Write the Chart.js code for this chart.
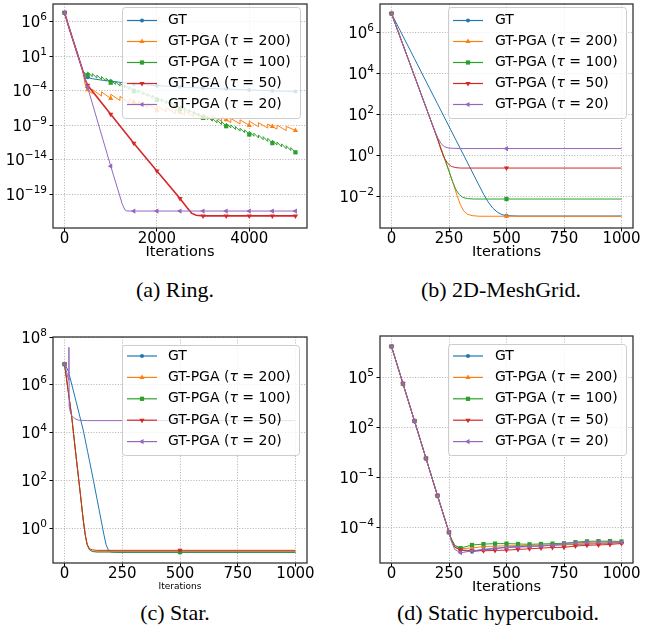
<!DOCTYPE html>
<html>
<head>
<meta charset="utf-8">
<script src="https://cdn.jsdelivr.net/npm/chart.js@4/dist/chart.umd.min.js"></script>
<style>
  body { margin: 0; background: #fff; }
  #fig { position: relative; width: 657px; height: 641px; overflow: hidden; background: #fff; }
  canvas { position: absolute; }
  .cap { position: absolute; width: 300px; text-align: center; white-space: nowrap;
         font-family: "Liberation Serif", serif; font-size: 22px; line-height: 24px; color: #000; }
</style>
</head>
<body>
<div id="fig">
  <canvas id="ring" style="left:0;top:0"></canvas>
  <canvas id="mesh" style="left:330px;top:0"></canvas>
  <canvas id="star" style="left:0;top:320px"></canvas>
  <canvas id="cube" style="left:330px;top:320px"></canvas>
  <div class="cap" style="left:25px;top:278px">(a) Ring.</div>
  <div class="cap" style="left:351px;top:278px">(b) 2D-MeshGrid.</div>
  <div class="cap" style="left:25px;top:601px">(c) Star.</div>
  <div class="cap" style="left:348px;top:601px">(d) Static hypercuboid.</div>
</div>
<script>
// values are log10 of the loss: [iteration, log10(loss)]

// (a) Ring
const ringMarks = [0, 500, 1000, 1500, 2000, 2500, 3000, 3500, 4000, 4500, 5000];
const ringGT = [[0,7.3],[100,5.1],[200,3.0],[300,0.9],[400,-1.2],[450,-1.75],[500,-2.05],[600,-2.25],[800,-2.45],
  [1000,-2.6],[1500,-3.0],[2000,-3.25],[2500,-3.45],[3000,-3.6],[3500,-3.75],[4000,-3.87],[4500,-4.0],[5000,-4.1]];
const ringPGA200 = [[0,7.3],[100,5.1],[200,3.0],[300,0.9],[400,-1.2],[440,-2.9],[480,-3.75],[500,-3.86],
  [600,-4.4],[600,-3.8],[800,-4.75],[800,-4.15],[1000,-5.1],[1000,-4.5],[1200,-5.4],[1200,-4.8],
  [1400,-5.75],[1400,-5.15],[1500,-5.63],[1600,-6.1],[1600,-5.5],[1800,-6.45],[1800,-5.85],
  [2000,-6.8],[2000,-6.2],[2200,-7.05],[2200,-6.45],[2400,-7.3],[2400,-6.7],[2500,-7.1],
  [2600,-7.5],[2600,-6.9],[2800,-7.75],[2800,-7.15],[3000,-8.0],[3000,-7.4],[3200,-8.2],[3200,-7.6],
  [3400,-8.4],[3400,-7.8],[3500,-8.2],[3600,-8.6],[3600,-8.0],[3800,-8.8],[3800,-8.2],
  [4000,-9.0],[4000,-8.4],[4200,-9.2],[4200,-8.6],[4400,-9.4],[4400,-8.8],[4500,-9.18],
  [4600,-9.55],[4600,-8.95],[4800,-9.75],[4800,-9.15],[5000,-9.75]];
const ringPGA100 = [[0,7.3],[100,5.1],[200,3.0],[300,0.9],[400,-1.2],[450,-1.45],
  [500,-1.72],[500,-1.28],[600,-1.94],[600,-1.5],[700,-2.16],[700,-1.72],[800,-2.38],[800,-1.94],
  [900,-2.6],[900,-2.16],[1000,-2.82],[1000,-2.38],[1100,-3.07],[1100,-2.63],[1200,-3.32],[1200,-2.88],
  [1300,-3.57],[1300,-3.13],[1400,-3.82],[1400,-3.38],[1500,-4.07],[1500,-3.63],[1600,-4.32],[1600,-3.88],
  [1700,-4.57],[1700,-4.13],[1800,-4.82],[1800,-4.38],[1900,-5.07],[1900,-4.63],[2000,-5.32],[2000,-4.88],
  [2100,-5.58],[2100,-5.14],[2200,-5.84],[2200,-5.4],[2300,-6.1],[2300,-5.66],[2400,-6.36],[2400,-5.92],
  [2500,-6.62],[2500,-6.18],[2600,-6.88],[2600,-6.44],[2700,-7.14],[2700,-6.7],[2800,-7.4],[2800,-6.96],
  [2900,-7.66],[2900,-7.22],[3000,-7.92],[3000,-7.48],[3100,-8.16],[3100,-7.72],[3200,-8.4],[3200,-7.96],
  [3300,-8.64],[3300,-8.2],[3400,-8.88],[3400,-8.44],[3500,-9.12],[3500,-8.68],[3600,-9.36],[3600,-8.92],
  [3700,-9.6],[3700,-9.16],[3800,-9.84],[3800,-9.4],[3900,-10.08],[3900,-9.64],[4000,-10.32],[4000,-9.88],
  [4100,-10.57],[4100,-10.13],[4200,-10.82],[4200,-10.38],[4300,-11.07],[4300,-10.63],[4400,-11.32],[4400,-10.88],
  [4500,-11.57],[4500,-11.13],[4600,-11.84],[4600,-11.4],[4700,-12.11],[4700,-11.67],[4800,-12.38],[4800,-11.94],
  [4900,-12.65],[4900,-12.21],[5000,-12.9]];
const ringPGA50 = [[0,7.3],[100,5.1],[200,3.0],[300,0.9],[400,-1.2],[450,-2.4],[500,-3.2],[1000,-7.4],
  [1500,-11.6],[2000,-15.6],[2500,-19.6],[2650,-20.9],[2750,-21.7],[2850,-22.0],[3000,-22.1],
  [3500,-22.1],[4000,-22.1],[4500,-22.1],[5000,-22.1]];
const ringPGA20 = [[0,7.3],[100,5.1],[200,3.0],[300,0.9],[400,-1.2],[500,-3.5],[1000,-14.9],[1250,-20.4],
  [1310,-21.25],[1350,-21.4],[1500,-21.4],[2000,-21.4],[2500,-21.4],[3000,-21.4],[3500,-21.4],
  [4000,-21.4],[4500,-21.4],[5000,-21.4]];

// (b) 2D-MeshGrid
const meshMarks = [0, 500];
const meshGT = [[0,6.93],[100,4.73],[200,2.53],[300,0.33],[400,-1.87],[420,-2.25],[440,-2.55],[460,-2.75],
  [480,-2.87],[500,-2.92],[550,-2.94],[1000,-2.94]];
const meshPGA200 = [[0,6.93],[100,3.88],[200,0.83],[250,-0.75],[270,-1.4],[285,-1.95],[300,-2.4],[315,-2.7],
  [330,-2.85],[350,-2.92],[380,-2.95],[500,-2.95],[1000,-2.95]];
const meshPGA100 = [[0,6.93],[100,3.88],[200,0.83],[250,-0.75],[265,-1.25],[280,-1.65],[295,-1.9],[310,-2.03],
  [330,-2.09],[360,-2.11],[500,-2.11],[1000,-2.11]];
const meshPGA50 = [[0,6.93],[100,3.88],[200,0.83],[215,0.3],[230,-0.12],[245,-0.38],[260,-0.52],[280,-0.58],
  [300,-0.6],[500,-0.6],[1000,-0.6]];
const meshPGA20 = [[0,6.93],[100,3.88],[180,1.45],[200,0.9],[215,0.6],[230,0.44],[250,0.37],[300,0.35],
  [500,0.35],[1000,0.35]];

// (c) Star
const starMarks = [0, 500];
const starGT = [[0,6.86],[10,6.7],[17,6.55],[50,5.3],[81,4.1],[100,3.2],[125,2.0],[150,0.75],[170,-0.25],
  [180,-0.7],[190,-0.92],[200,-1.0],[220,-1.02],[500,-1.02],[1000,-1.02]];
const starPGA200 = [[0,6.86],[15,5.8],[31,4.66],[50,3.0],[70,1.3],[81,0.34],[90,-0.3],[98,-0.7],[108,-0.9],
  [120,-0.97],[140,-0.99],[500,-0.99],[1000,-0.99]];
const starPGA100 = [[0,6.86],[15,5.8],[31,4.66],[50,3.0],[70,1.3],[81,0.34],[90,-0.3],[98,-0.7],[108,-0.91],
  [120,-0.98],[140,-1.0],[500,-1.0],[1000,-1.0]];
const starPGA50 = [[0,6.86],[15,5.8],[31,4.66],[50,3.0],[70,1.3],[81,0.34],[90,-0.3],[98,-0.68],[108,-0.86],
  [120,-0.91],[140,-0.93],[500,-0.93],[1000,-0.93]];
const starPGA20 = [[0,6.86],[10,6.5],[17,6.2],[19,7.57],[20,5.1],[25,4.85],[31,4.72],[45,4.58],[60,4.52],
  [100,4.5],[500,4.5],[1000,4.5]];

// (d) Static hypercuboid
const cubeMarks = [0,50,100,150,200,250,300,350,400,450,500,550,600,650,700,750,800,850,900,950,1000];
const cubeGT = [[0,6.89],[50,4.64],[100,2.39],[150,0.14],[200,-2.11],[250,-4.32],[260,-4.75],[275,-5.2],
  [300,-5.38],[350,-5.49],[400,-5.38],[450,-5.3],[500,-5.2],[550,-5.18],[600,-5.16],[650,-5.13],[700,-5.1],
  [750,-5.07],[800,-5.05],[850,-5.02],[900,-5.0],[950,-4.96],[1000,-4.93]];
const cubePGA200 = [[0,6.89],[50,4.64],[100,2.39],[150,0.14],[200,-2.11],[250,-4.32],[260,-4.72],[275,-5.12],
  [300,-5.32],[350,-5.25],[400,-5.18],[450,-5.15],[500,-5.13],[550,-5.12],[600,-5.11],[650,-5.09],[700,-5.07],
  [750,-5.05],[800,-5.02],[850,-5.0],[900,-4.98],[950,-4.96],[1000,-4.95]];
const cubePGA100 = [[0,6.89],[50,4.64],[100,2.39],[150,0.14],[200,-2.11],[250,-4.32],[260,-4.7],[275,-5.1],
  [300,-5.27],[350,-5.08],[400,-5.03],[450,-5.0],[500,-5.0],[550,-5.02],[600,-5.04],[650,-5.02],[700,-5.0],
  [750,-4.98],[800,-4.91],[850,-4.86],[900,-4.85],[950,-4.85],[1000,-4.87]];
const cubePGA50 = [[0,6.89],[50,4.64],[100,2.39],[150,0.14],[200,-2.11],[250,-4.32],[260,-4.78],[275,-5.22],
  [300,-5.38],[350,-5.42],[400,-5.43],[450,-5.41],[500,-5.39],[550,-5.35],[600,-5.31],[650,-5.27],[700,-5.23],
  [750,-5.22],[800,-5.15],[850,-5.1],[900,-5.08],[950,-5.05],[1000,-4.99]];
const cubePGA20 = [[0,6.89],[50,4.64],[100,2.39],[150,0.14],[200,-2.11],[250,-4.32],[260,-4.85],[275,-5.35],
  [300,-5.55],[350,-5.44],[400,-5.34],[450,-5.28],[500,-5.24],[550,-5.21],[600,-5.18],[650,-5.14],[700,-5.1],
  [750,-5.0],[800,-4.95],[850,-4.92],[900,-4.9],[950,-4.9],[1000,-4.91]];

// tick labels
const ringXTicks = [0, 2000, 4000];
const otherXTicks = [0, 250, 500, 750, 1000];
const ringYTicks = [1e6, 1e1, 1e-4, 1e-9, 1e-14, 1e-19];
const meshYTicks = [1e6, 1e4, 1e2, 1e0, 1e-2];
const starYTicks = [1e8, 1e6, 1e4, 1e2, 1e0];
const cubeYTicks = [1e5, 1e2, 1e-1, 1e-4];

const SERIES = [
  {tau: null,  color: '#1f77b4', style: 'circle',   rot: 0,   r: 2},
  {tau: '200', color: '#ff7f0e', style: 'triangle', rot: 0,   r: 3},
  {tau: '100', color: '#2ca02c', style: 'rect',     rot: 0,   r: 3},
  {tau: '50',  color: '#d62728', style: 'triangle', rot: 180, r: 3},
  {tau: '20',  color: '#9467bd', style: 'triangle', rot: -90, r: 3}
];

function markerRadius(c, marks, r) {
  const d = c.dataset.data, i = c.dataIndex, pt = d[i];
  if (!pt || (i > 0 && d[i - 1].x === pt.x)) return 0;
  return marks.includes(pt.x) ? r : 0;
}

// y tick labels as 10 with a raised exponent, placed through the y scale
function drawPowerLabels(chart) {
  const ctx = chart.ctx, sc = chart.scales.y, right = chart.chartArea.left - 6;
  ctx.save();
  ctx.fillStyle = '#000';
  ctx.textAlign = 'left';
  sc.ticks.forEach(t => {
    const y = sc.getPixelForValue(t.value);
    const e = String(Math.round(Math.log10(t.value))).replace('-', '\u2212');
    ctx.font = '10.5px "DejaVu Sans"';
    const ew = ctx.measureText(e).width;
    ctx.font = '15px "DejaVu Sans"';
    const bw = ctx.measureText('10').width;
    ctx.textBaseline = 'alphabetic';
    ctx.fillText('10', right - ew - bw, y + 5.5);
    ctx.font = '10.5px "DejaVu Sans"';
    ctx.fillText(e, right - ew, y - 1.5);
  });
  ctx.restore();
}

function drawLegend(chart, L) {
  const ctx = chart.ctx;
  ctx.save();
  ctx.beginPath();
  ctx.roundRect(L.x + 0.5, L.y + 0.5, L.w, L.h, 3);
  ctx.fillStyle = 'rgba(255,255,255,0.8)';
  ctx.fill();
  ctx.strokeStyle = '#cccccc';
  ctx.lineWidth = 1;
  ctx.stroke();
  SERIES.forEach((s, i) => {
    const y = L.row0 + i * L.dy;
    ctx.strokeStyle = s.color;
    ctx.lineWidth = 1.2;
    ctx.beginPath();
    ctx.moveTo(L.l0, y);
    ctx.lineTo(L.l1, y);
    ctx.stroke();
    ctx.fillStyle = s.color;
    Chart.helpers.drawPoint(ctx, {pointStyle: s.style, rotation: s.rot, radius: s.r, borderWidth: 0},
      (L.l0 + L.l1) / 2, y);
    ctx.fillStyle = '#000';
    ctx.textBaseline = 'middle';
    ctx.textAlign = 'left';
    const parts = s.tau ? [['GT-PGA (', ''], ['\u03c4', 'italic '], [' = ' + s.tau + ')', '']] : [['GT', '']];
    let x = L.tx;
    parts.forEach(([t, st]) => {
      ctx.font = st + L.font + 'px "DejaVu Sans"';
      ctx.fillText(t, x, y);
      x += ctx.measureText(t).width;
    });
  });
  ctx.restore();
}

function decor(L) {
  return {
    id: 'decor',
    afterDatasetsDraw(chart) {
      drawLegend(chart, L);
      const a = chart.chartArea, ctx = chart.ctx;
      ctx.save();
      ctx.strokeStyle = '#333';
      ctx.lineWidth = 1.3;
      ctx.strokeRect(a.left, a.top, a.right - a.left, a.bottom - a.top);
      ctx.restore();
      drawPowerLabels(chart);
    }
  };
}

function buildChart(p) {
  const canvas = document.getElementById(p.id);
  canvas.width = p.W;
  canvas.height = p.H;
  const datasets = p.series.map((pts, i) => {
    const s = SERIES[i];
    return {
      data: pts.map(([x, l]) => ({x: x, y: Math.pow(10, l)})),
      borderColor: s.color,
      backgroundColor: s.color,
      borderWidth: p.widths ? p.widths[i] : 1,
      pointStyle: s.style,
      pointRotation: s.rot,
      pointBackgroundColor: s.color,
      pointBorderWidth: 0,
      pointRadius: c => markerRadius(c, p.marks, s.r),
      tension: 0,
      fill: false,
      order: 5 - i
    };
  });
  const tickFont = {family: 'DejaVu Sans', size: 15, lineHeight: 1};
  new Chart(canvas, {
    type: 'line',
    data: {datasets: datasets},
    options: {
      responsive: false,
      animation: false,
      devicePixelRatio: 1,
      events: [],
      layout: {padding: {left: 0, top: p.area.top, right: p.W - p.area.right, bottom: 0}},
      plugins: {legend: {display: false}, tooltip: {enabled: false}},
      scales: {
        x: {
          type: 'linear', min: p.xMin, max: p.xMax,
          afterBuildTicks: sc => { sc.ticks = p.xTicks.map(v => ({value: v})); },
          afterFit: sc => { sc.height = p.H - p.area.bottom; sc.paddingLeft = 0; sc.paddingRight = 0; },
          ticks: {font: tickFont, color: '#000', padding: 0, maxRotation: 0, autoSkip: false,
                  callback: v => String(v)},
          grid: {color: '#b0b0b0', lineWidth: 1, tickLength: 3.5, tickColor: '#000', tickWidth: 1},
          border: {display: false, dash: [1, 1.7]},
          title: {display: true, text: 'Iterations', color: '#000', padding: 0,
                  font: {family: 'DejaVu Sans', size: p.titleSize, lineHeight: 1.2}}
        },
        y: {
          type: 'logarithmic', min: p.yMin, max: p.yMax,
          afterBuildTicks: sc => { sc.ticks = p.yTicks.map(v => ({value: v})); },
          afterFit: sc => { sc.width = p.area.left; sc.paddingTop = 0; sc.paddingBottom = 0; },
          ticks: {display: false, autoSkip: false},
          grid: {color: '#b0b0b0', lineWidth: 1, tickLength: 3.5, tickColor: '#000', tickWidth: 1},
          border: {display: false, dash: [1, 1.7]}
        }
      }
    },
    plugins: [decor(p.legend)]
  });
}

buildChart({
  id: 'ring', W: 330, H: 261, area: {left: 53, top: 1, right: 307, bottom: 228},
  xMin: -250, xMax: 5250, yMin: 1.4e-24, yMax: 3.7e8, xTicks: ringXTicks, yTicks: ringYTicks,
  titleSize: 14.5, marks: ringMarks, widths: [1, 1, 1, 1.6, 1],
  series: [ringGT, ringPGA200, ringPGA100, ringPGA50, ringPGA20],
  legend: {x: 122, y: 7, w: 178, h: 111, row0: 20.5, dy: 21, l0: 127, l1: 157, tx: 168, font: 14}
});
buildChart({
  id: 'mesh', W: 327, H: 261, area: {left: 50, top: 1, right: 303, bottom: 228},
  xMin: -50, xMax: 1050, yMin: 3.3e-4, yMax: 2.5e7, xTicks: otherXTicks, yTicks: meshYTicks,
  titleSize: 14.5, marks: meshMarks,
  series: [meshGT, meshPGA200, meshPGA100, meshPGA50, meshPGA20],
  legend: {x: 118, y: 7, w: 178, h: 111, row0: 20.5, dy: 21, l0: 123, l1: 153, tx: 165, font: 14}
});
buildChart({
  id: 'star', W: 330, H: 272, area: {left: 53, top: 17, right: 307, bottom: 243},
  xMin: -50, xMax: 1050, yMin: 0.0347, yMax: 1e8, xTicks: otherXTicks, yTicks: starYTicks,
  titleSize: 9, marks: starMarks,
  series: [starGT, starPGA200, starPGA100, starPGA50, starPGA20],
  legend: {x: 122, y: 25, w: 177, h: 110, row0: 36, dy: 21.4, l0: 127, l1: 157, tx: 168, font: 14}
});
buildChart({
  id: 'cube', W: 327, H: 276, area: {left: 50, top: 16, right: 303, bottom: 243},
  xMin: -50, xMax: 1050, yMin: 6.8e-7, yMax: 3.3e7, xTicks: otherXTicks, yTicks: cubeYTicks,
  titleSize: 14.5, marks: cubeMarks,
  series: [cubeGT, cubePGA200, cubePGA100, cubePGA50, cubePGA20],
  legend: {x: 118, y: 24, w: 178, h: 111, row0: 36, dy: 21.4, l0: 123, l1: 153, tx: 165, font: 14}
});
</script>
</body>
</html>
